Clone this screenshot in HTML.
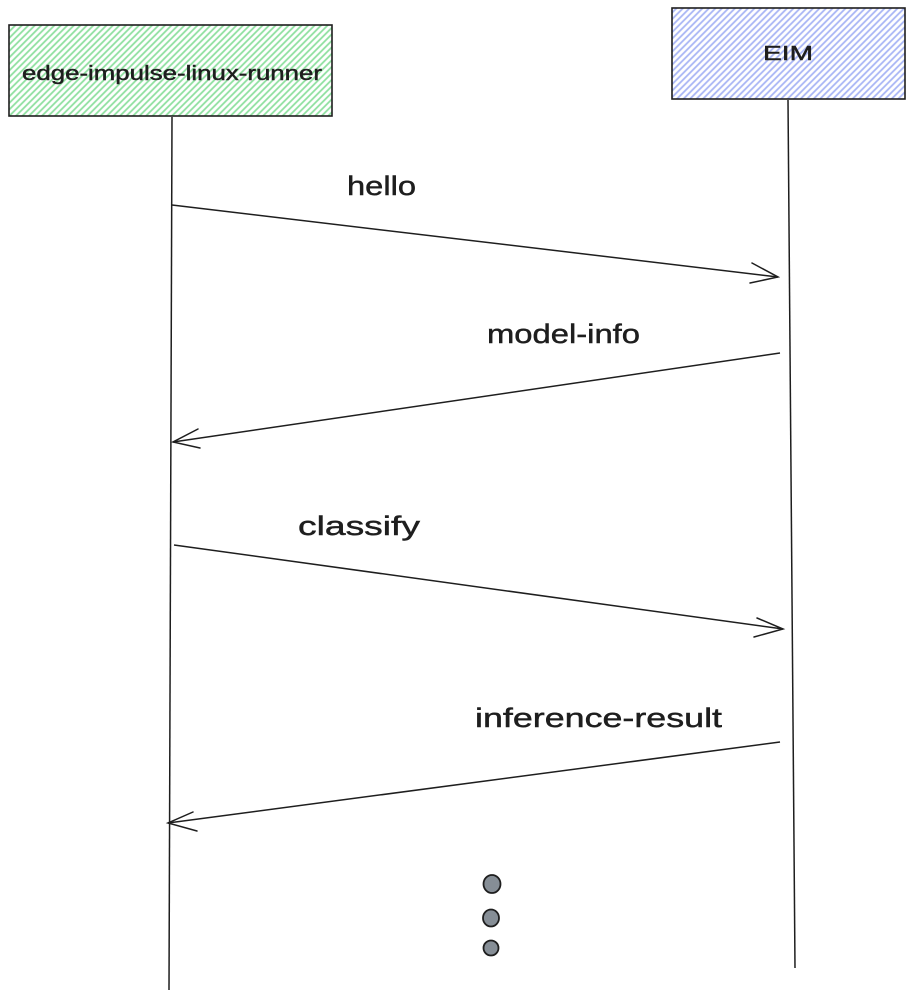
<!DOCTYPE html>
<html>
<head>
<meta charset="utf-8">
<style>
  html,body{margin:0;padding:0;background:#ffffff;}
  svg{display:block;}
  text{font-family:"Liberation Sans", "DejaVu Sans", sans-serif;fill:#1e1e1e;stroke:#1e1e1e;stroke-width:0.45;}
</style>
</head>
<body>
<svg width="914" height="1000" viewBox="0 0 914 1000" xmlns="http://www.w3.org/2000/svg">
  <defs>
    <pattern id="hg" patternUnits="userSpaceOnUse" width="4.6" height="10" patternTransform="rotate(45)">
      <rect width="4.6" height="10" fill="#ffffff"/>
      <line x1="1.2" y1="0" x2="1.2" y2="10" stroke="#8fe0a0" stroke-width="1.8"/>
    </pattern>
    <pattern id="hb" patternUnits="userSpaceOnUse" width="4.6" height="10" patternTransform="rotate(45)">
      <rect width="4.6" height="10" fill="#ffffff"/>
      <line x1="1.2" y1="0" x2="1.2" y2="10" stroke="#a9b6f5" stroke-width="1.8"/>
    </pattern>
  </defs>

  <!-- Boxes -->
  <rect x="9" y="25" width="323" height="91" fill="url(#hg)" stroke="#1e1e1e" stroke-width="1.6"/>
  <text x="22" y="80" font-size="20" textLength="300" lengthAdjust="spacingAndGlyphs">edge-impulse-linux-runner</text>

  <rect x="672" y="8" width="233" height="91" fill="url(#hb)" stroke="#1e1e1e" stroke-width="1.6"/>
  <text x="763" y="60" font-size="20" textLength="50" lengthAdjust="spacingAndGlyphs">EIM</text>

  <!-- Lifelines -->
  <path d="M172 117 L169 990" stroke="#1e1e1e" stroke-width="1.5" fill="none"/>
  <path d="M788 100 L795 968" stroke="#1e1e1e" stroke-width="1.5" fill="none"/>

  <!-- Arrow 1: hello -->
  <text x="347" y="195" font-size="27" textLength="69" lengthAdjust="spacingAndGlyphs">hello</text>
  <path d="M172 205 L778 277" stroke="#1e1e1e" stroke-width="1.5" fill="none"/>
  <path d="M752 263 L778 277 L750 283" stroke="#1e1e1e" stroke-width="1.5" fill="none" stroke-linecap="round"/>

  <!-- Arrow 2: model-info -->
  <text x="487" y="343" font-size="27" textLength="153" lengthAdjust="spacingAndGlyphs">model-info</text>
  <path d="M780 353 L173 442" stroke="#1e1e1e" stroke-width="1.5" fill="none"/>
  <path d="M198 429 L173 442 L200 448" stroke="#1e1e1e" stroke-width="1.5" fill="none" stroke-linecap="round"/>

  <!-- Arrow 3: classify -->
  <text x="298" y="535" font-size="27" textLength="122" lengthAdjust="spacingAndGlyphs">classify</text>
  <path d="M174 545 L783 629" stroke="#1e1e1e" stroke-width="1.5" fill="none"/>
  <path d="M757 618 L783 629 L754 637" stroke="#1e1e1e" stroke-width="1.5" fill="none" stroke-linecap="round"/>

  <!-- Arrow 4: inference-result -->
  <text x="475" y="727" font-size="27" textLength="247" lengthAdjust="spacingAndGlyphs">inference-result</text>
  <path d="M780 742 L168 823" stroke="#1e1e1e" stroke-width="1.5" fill="none"/>
  <path d="M193 812 L168 823 L197 831" stroke="#1e1e1e" stroke-width="1.5" fill="none" stroke-linecap="round"/>

  <!-- Dots -->
  <ellipse cx="492" cy="884" rx="8.5" ry="9" fill="#868e96" stroke="#1e1e1e" stroke-width="1.8"/>
  <ellipse cx="491" cy="918" rx="8" ry="8.5" fill="#868e96" stroke="#1e1e1e" stroke-width="1.8"/>
  <ellipse cx="491" cy="948" rx="7.5" ry="7.5" fill="#868e96" stroke="#1e1e1e" stroke-width="1.8"/>
</svg>
</body>
</html>
